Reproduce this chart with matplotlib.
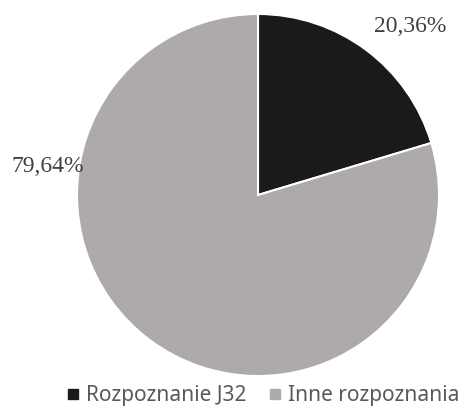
import matplotlib
matplotlib.use("Agg")
import matplotlib.pyplot as plt
from matplotlib.lines import Line2D

labels = ["Rozpoznanie J32", "Inne rozpoznania"]
values = [20.36, 79.64]
value_labels = ["20,36%", "79,64%"]
colors = ["#1a1a1a", "#aeaaaa"]

fig = plt.figure(figsize=(4.6, 4.09), dpi=100)
ax = fig.add_axes([(258 - 181) / 460, 33 / 409, 362 / 460, 362 / 409])
ax.pie(values, colors=colors, startangle=90, counterclock=False, radius=1,
       wedgeprops=dict(edgecolor="white", linewidth=1.5))
ax.set_xlim(-1, 1)
ax.set_ylim(-1, 1)
ax.set_aspect("equal")
ax.axis("off")

label_pos = [(0.84, 0.93), (-1.16, 0.155)]
for (x, y), t in zip(label_pos, value_labels):
    ax.text(x, y, t, ha="center", va="center", fontsize=17,
            family="Liberation Serif", color="#404040", clip_on=False)

handles = [Line2D([0], [0], marker="s", linestyle="none", markersize=7,
                  markerfacecolor=c, markeredgecolor=c) for c in colors]
fig.legend(handles, labels, loc="center", bbox_to_anchor=(0.57, 0.032),
           ncol=2, frameon=False, prop={"family": "Noto Sans", "size": 15},
           labelcolor="#595959", handletextpad=0.2, columnspacing=1.0,
           handlelength=0.8, borderaxespad=0, borderpad=0)

fig.savefig("out.png", dpi=100)
